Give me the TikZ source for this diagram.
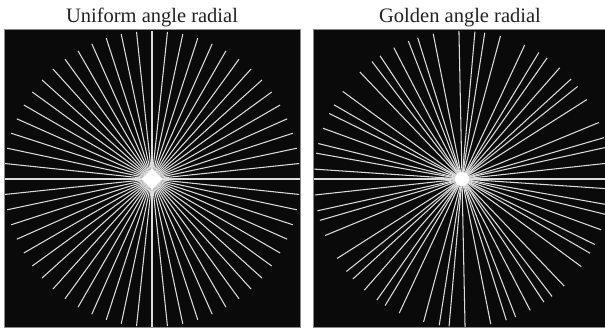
\documentclass[tikz,border=0pt]{standalone}
\usepackage{fontspec}
\setmainfont{Liberation Serif}
\definecolor{panelblack}{HTML}{0A0A0A}
\definecolor{spokegray}{HTML}{DCDCDC}
\definecolor{framegray}{HTML}{8A8A8A}
\definecolor{titletext}{HTML}{222222}
\begin{document}
\begin{tikzpicture}[x=1pt,y=-1pt,
  spoke/.style={draw=spokegray, line width=1.05pt},
  hub/.style={fill=white},
  panel/.style={fill=panelblack, draw=framegray, line width=0.8pt},
  title/.style={font=\fontsize{20.5}{24}\selectfont, text=titletext, inner sep=0pt, anchor=base}]
\useasboundingbox (0,0) rectangle (605,332);
\fill[white] (0,0) rectangle (605,332);
% titles
\node[title] (tleft) at (152,22) {Uniform angle radial};
\node[title] (tright) at (460,22) {Golden angle radial};
% left panel: uniform angles
\path[panel] (4.5,29.5) rectangle (300.5,327.5);
\begin{scope}
  \clip (5,30) rectangle (300,327);
  \foreach \k [evaluate=\k as \a using \k*6] in {0,...,29}
    \draw[spoke] ({152+148*cos(\a)},{179-148*sin(\a)}) -- ({152-148*cos(\a)},{179+148*sin(\a)});
  \path[hub] (152,168) -- (157,174) -- (163,179) -- (157,184) -- (152,190) -- (147,184) -- (141,179) -- (147,174) -- cycle;
\end{scope}
% right panel: golden angles
\path[panel] (313,29.5) rectangle (605.5,327.5);
\begin{scope}
  \clip (313.5,30) rectangle (605,327);
  \foreach \k [evaluate=\k as \a using \k*111.24612] in {0,...,29}
    \draw[spoke] ({462+148*cos(\a)},{179-148*sin(\a)}) -- ({462-148*cos(\a)},{179+148*sin(\a)});
  \path[hub] (462,179) circle[radius=7];
\end{scope}
\end{tikzpicture}
\end{document}
